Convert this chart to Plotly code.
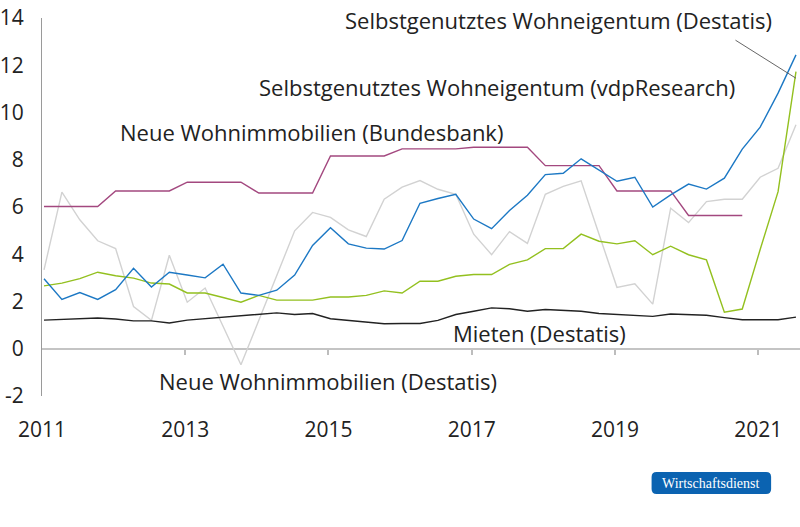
import plotly.graph_objects as go

# Quarterly observations 2011Q1 .. 2021Q3
quarters = [f"{y}Q{q}" for y in range(2011, 2022) for q in range(1, 5)][:43]

mieten_destatis = [1.21, 1.24, 1.24, 1.30, 1.26, 1.18, 1.18, 1.09, 1.21, 1.27, 1.31, 1.37,
                   1.44, 1.52, 1.45, 1.49, 1.27, 1.21, 1.14, 1.06, 1.07, 1.07, 1.20, 1.45,
                   1.59, 1.73, 1.69, 1.59, 1.66, 1.62, 1.59, 1.49, 1.44, 1.41, 1.37, 1.47,
                   1.45, 1.42, 1.32, 1.23, 1.23, 1.23, 1.34]

wohneigentum_destatis = [2.96, 2.09, 2.38, 2.09, 2.50, 3.41, 2.61, 3.24, 3.12, 3.00, 3.58, 2.36,
                         2.26, 2.48, 3.12, 4.37, 5.12, 4.44, 4.26, 4.22, 4.58, 6.16, 6.36, 6.54,
                         5.49, 5.08, 5.85, 6.50, 7.37, 7.43, 8.04, 7.57, 7.09, 7.26, 6.00, 6.51,
                         6.97, 6.76, 7.22, 8.45, 9.38, 10.82, 12.44]

wohneigentum_vdp = [2.66, 2.78, 2.97, 3.24, 3.09, 2.99, 2.78, 2.74, 2.36, 2.36, 2.17, 1.97,
                    2.26, 2.06, 2.06, 2.06, 2.19, 2.19, 2.26, 2.45, 2.36, 2.86, 2.86, 3.07,
                    3.14, 3.14, 3.57, 3.76, 4.24, 4.24, 4.85, 4.55, 4.44, 4.57, 3.98, 4.34,
                    3.98, 3.76, 1.55, 1.68, 4.20, 6.65, 11.73]

neue_wohn_destatis = [3.34, 6.63, 5.46, 4.57, 4.24, 1.79, 1.20, 3.96, 1.97, 2.57, 0.95, -0.68,
                      1.21, 3.10, 4.99, 5.77, 5.56, 5.03, 4.75, 6.33, 6.84, 7.12, 6.75, 6.54,
                      4.85, 3.98, 4.96, 4.46, 6.54, 6.87, 7.11, 4.85, 2.60, 2.75, 1.89, 5.95,
                      5.34, 6.23, 6.33, 6.33, 7.26, 7.64, 9.48]

neue_wohn_bundesbank = [6.02, 6.02, 6.02, 6.02, 6.68, 6.68, 6.68, 6.68, 7.05, 7.05, 7.05, 7.05,
                        6.59, 6.59, 6.59, 6.59, 8.16, 8.16, 8.16, 8.16, 8.46, 8.46, 8.46, 8.46,
                        8.53, 8.53, 8.53, 8.53, 7.75, 7.75, 7.75, 7.75, 6.68, 6.68, 6.68, 6.68,
                        5.64, 5.64, 5.64, 5.64]

year_ticks = [2011, 2013, 2015, 2017, 2019, 2021]
y_ticks = [-2, 0, 2, 4, 6, 8, 10, 12, 14]

labels = {
    "destatis_own": "Selbstgenutztes Wohneigentum (Destatis)",
    "vdp_own": "Selbstgenutztes Wohneigentum (vdpResearch)",
    "bbk_new": "Neue Wohnimmobilien (Bundesbank)",
    "rent": "Mieten (Destatis)",
    "destatis_new": "Neue Wohnimmobilien (Destatis)",
}

def qpos(q):
    y, k = q.split("Q")
    return int(y) + (int(k) - 1) * 0.25 + 0.028

xq = [qpos(q) for q in quarters]

W, H = 800, 527
L, R, T, B = 39, 0, 18, 131
PW, PH = W - L - R, H - T - B
x0, x1 = 2011.0, 2011.0 + PW / 71.9
y0, y1 = -2, 14

def px(xp):
    return (xp - L) / PW

def py(yp):
    return (H - B - yp) / PH

FONT = "Open Sans"
fig = go.Figure()

series = [
    (neue_wohn_destatis, "#d2d2d2", labels["destatis_new"], "x"),
    (neue_wohn_bundesbank, "#a3487f", labels["bbk_new"], "x"),
    (wohneigentum_vdp, "#93c01f", labels["vdp_own"], "x"),
    (wohneigentum_destatis, "#1c78c4", labels["destatis_own"], "x"),
    (mieten_destatis, "#222222", labels["rent"], "x2"),
]
for vals, col, name, xa in series:
    fig.add_trace(go.Scatter(x=xq[:len(vals)], y=vals, mode="lines", name=name,
                             line=dict(color=col, width=1.4), xaxis=xa, yaxis="y",
                             showlegend=False, hoverinfo="skip"))

fig.update_layout(
    width=W, height=H,
    margin=dict(l=L, r=R, t=T, b=B, pad=0),
    paper_bgcolor="white", plot_bgcolor="white",
    font=dict(family=FONT, size=21, color="#222222"),
    xaxis=dict(range=[x0, x1], tickvals=year_ticks, ticktext=[str(t) for t in year_ticks],
               showgrid=False, zeroline=False, showline=False,
               ticks="outside", ticklen=15, tickcolor="rgba(0,0,0,0)",
               tickfont=dict(family=FONT, size=21, color="#222222")),
    xaxis2=dict(range=[x0, x1], overlaying="x", anchor="free", position=2 / 16,
                tickvals=year_ticks[1:], showticklabels=False, showgrid=False, zeroline=False,
                showline=False, ticks="outside", ticklen=5, tickcolor="#bdbdbd", tickwidth=1.5),
    yaxis=dict(range=[y0, y1], tickvals=y_ticks, ticktext=[str(t) for t in y_ticks],
               showgrid=False, zeroline=True, zerolinecolor="#c4c4c4", zerolinewidth=2,
               showline=True, linecolor="#9a9a9a", linewidth=1.2,
               ticks="outside", ticklen=13, tickcolor="rgba(0,0,0,0)",
               tickfont=dict(family=FONT, size=21, color="#222222")),
)

text_pos = [
    (labels["destatis_own"], 341, 20),
    (labels["vdp_own"], 255, 87),
    (labels["bbk_new"], 115, 132),
    (labels["rent"], 450, 333),
    (labels["destatis_new"], 154, 381),
]
for txt, xp_, yp_ in text_pos:
    fig.add_annotation(text=txt, x=px(xp_), y=py(yp_), xref="paper", yref="paper",
                       xanchor="left", yanchor="middle", showarrow=False,
                       font=dict(family=FONT, size=22, color="#222222"))

# leader line for the Destatis owner-occupied label
fig.add_annotation(text="", x=xq[42], y=11.45, xref="x", yref="y", ax=-62, ay=-39,
                   showarrow=True, arrowhead=0, arrowwidth=0.9, arrowcolor="#555555")

# publisher badge (rounded rectangle + text)
bx0, bx1, by0, by1, r = 651, 771, 472, 494, 5
path = (f"M {px(bx0 + r)},{py(by0)} L {px(bx1 - r)},{py(by0)} "
        f"Q {px(bx1)},{py(by0)} {px(bx1)},{py(by0 + r)} L {px(bx1)},{py(by1 - r)} "
        f"Q {px(bx1)},{py(by1)} {px(bx1 - r)},{py(by1)} L {px(bx0 + r)},{py(by1)} "
        f"Q {px(bx0)},{py(by1)} {px(bx0)},{py(by1 - r)} L {px(bx0)},{py(by0 + r)} "
        f"Q {px(bx0)},{py(by0)} {px(bx0 + r)},{py(by0)} Z")
fig.add_shape(type="path", path=path, xref="paper", yref="paper",
              fillcolor="#0b63b1", line=dict(width=0), layer="above")
fig.add_annotation(text="Wirtschaftsdienst", x=px(711), y=py(483), xref="paper", yref="paper",
                   xanchor="center", yanchor="middle", showarrow=False,
                   font=dict(family="Liberation Serif", size=14, color="white"))

fig.write_html("out.html")
